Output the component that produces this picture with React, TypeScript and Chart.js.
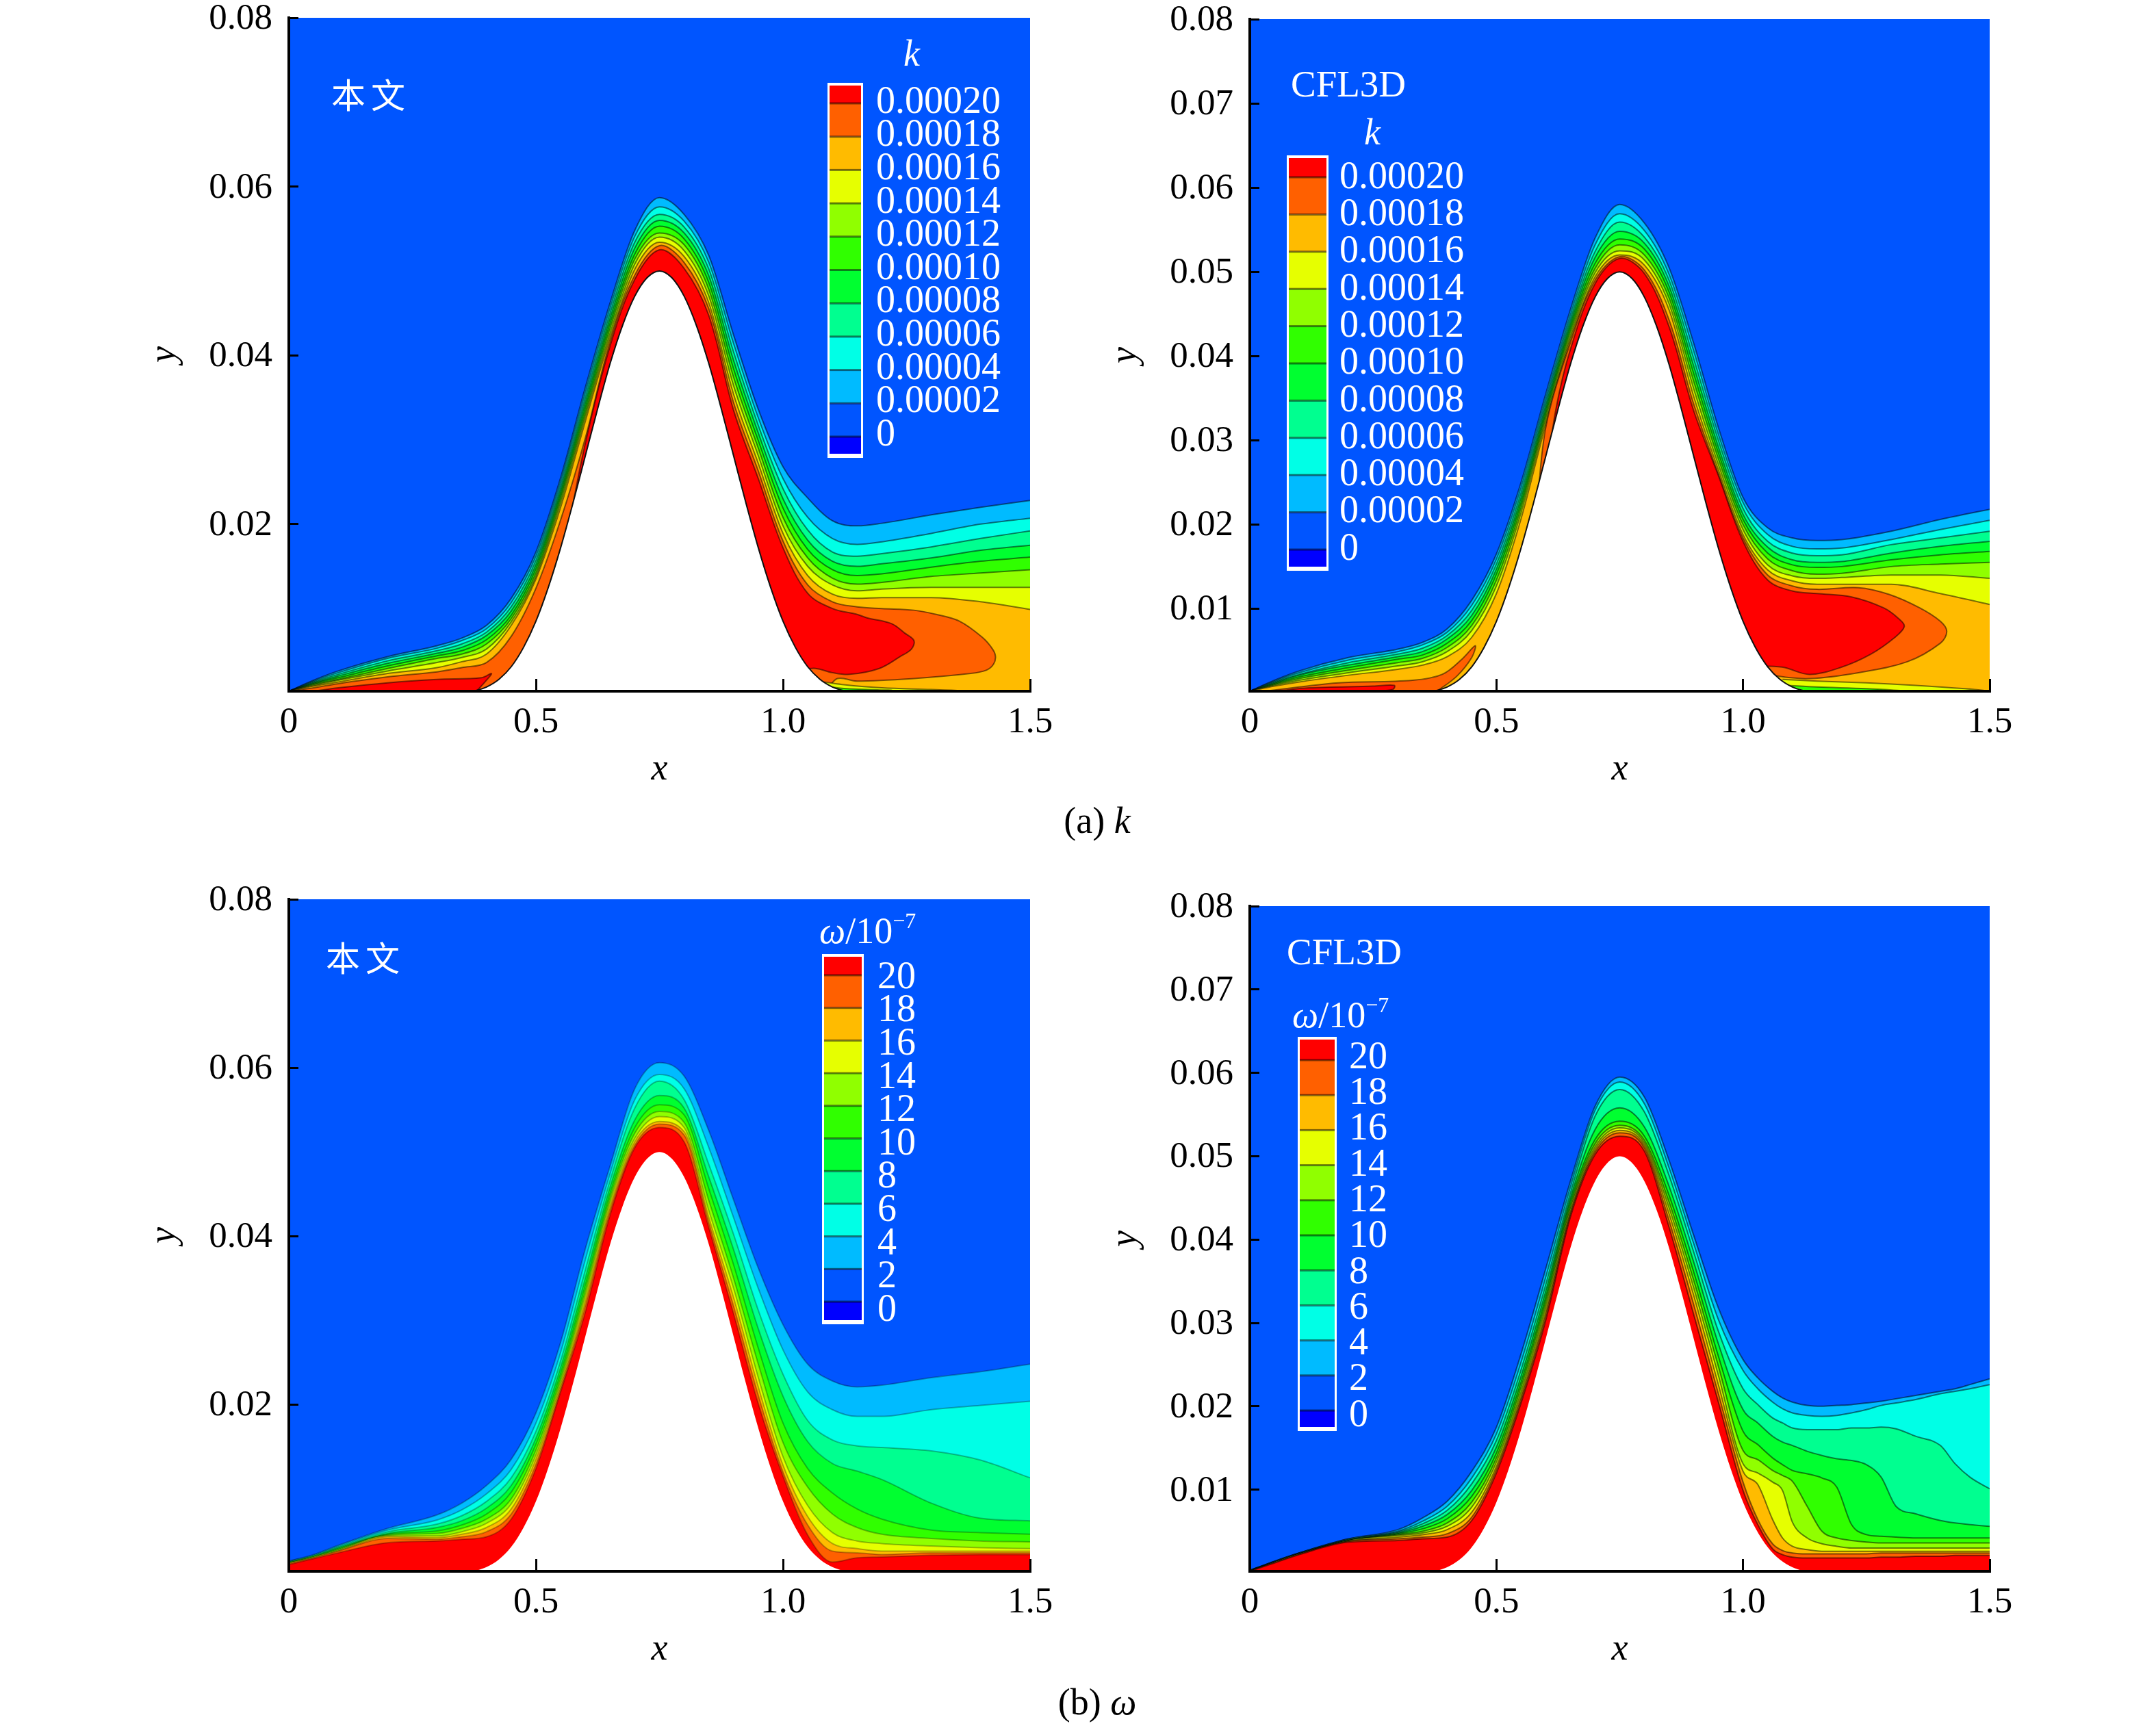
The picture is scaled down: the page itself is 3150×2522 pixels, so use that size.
import { useEffect, useRef } from "react";
import { Chart, registerables } from "chart.js";

Chart.register(...registerables);

const SERIF = '"Liberation Serif", serif';
const CJK = '"Noto Sans CJK SC", sans-serif';

// Tecplot flood colours, lowest level first. The first is the free stream.
const fieldColor = "#0055ff";
const bandColors = ["#00bbff", "#00ffe6", "#00ff90", "#00ff30", "#30ff00", "#90ff00", "#e6ff00", "#ffbb00", "#ff6000", "#ff0000"];
const legendCells = ["#ff0000", "#ff6000", "#ffbb00", "#e6ff00", "#90ff00", "#30ff00", "#00ff30", "#00ff90", "#00ffe6", "#00bbff", "#0055ff", "#0000ff"];

const kLegendLabels = ["0.00020", "0.00018", "0.00016", "0.00014", "0.00012", "0.00010", "0.00008", "0.00006", "0.00004", "0.00002", "0"];
const omegaLegendLabels = ["20", "18", "16", "14", "12", "10", "8", "6", "4", "2", "0"];

const xTickValues = [0, 0.5, 1.0, 1.5];
const xTickLabels = ["0", "0.5", "1.0", "1.5"];
const yTicksCoarse = [0.02, 0.04, 0.06, 0.08];
const yTicksFine = [0.01, 0.02, 0.03, 0.04, 0.05, 0.06, 0.07, 0.08];

// the bump, same for all four panels
const wallX = [0, 0.3, 0.35, 0.38, 0.4, 0.425, 0.45, 0.475, 0.5, 0.525, 0.55, 0.575, 0.6, 0.625, 0.65, 0.675, 0.7, 0.725, 0.75, 0.775, 0.8, 0.825, 0.85, 0.875, 0.9, 0.925, 0.95, 0.975, 1.0, 1.025, 1.05, 1.075, 1.1, 1.12, 1.15, 1.5];
const wallY = [0, 0, 0, 0.0003, 0.0007, 0.0016, 0.0031, 0.0054, 0.0085, 0.0125, 0.0172, 0.0225, 0.0281, 0.0337, 0.039, 0.0435, 0.047, 0.0492, 0.05, 0.0492, 0.047, 0.0435, 0.039, 0.0337, 0.0281, 0.0225, 0.0172, 0.0125, 0.0085, 0.0054, 0.0031, 0.0016, 0.0007, 0.0003, 0, 0];

// x stations for the contour rows
const stations = [0, 0.05, 0.1, 0.2, 0.3, 0.35, 0.4, 0.45, 0.5, 0.55, 0.6, 0.65, 0.7, 0.75, 0.8, 0.85, 0.9, 0.95, 1.0, 1.05, 1.1, 1.15, 1.2, 1.3, 1.4, 1.5];
const stationsFine = [0, 0.05, 0.1, 0.2, 0.3, 0.35, 0.4, 0.45, 0.5, 0.55, 0.6, 0.65, 0.7, 0.75, 0.8, 0.85, 0.9, 0.95, 1.0, 1.03, 1.06, 1.08, 1.1, 1.13, 1.16, 1.19, 1.22, 1.25, 1.28, 1.31, 1.35, 1.4, 1.43, 1.46, 1.5];

// k, present code: one row per station, contour height from the outermost level inward
const kOursRows = [
  [0.0002, 0.0002, 0.0002, 0.0002, 0.0002, 0.0002, 0.0002, 0.0002],
  [0.0015, 0.0014, 0.0013, 0.0012, 0.0011, 0.001, 0.0009, 0.0008],
  [0.0026, 0.0024, 0.0022, 0.002, 0.0018, 0.0016, 0.0015, 0.0013],
  [0.0043, 0.0041, 0.0038, 0.0035, 0.0032, 0.0029, 0.0026, 0.0023],
  [0.0056, 0.0053, 0.005, 0.0047, 0.0044, 0.0041, 0.0036, 0.003],
  [0.0065, 0.0062, 0.0058, 0.0054, 0.005, 0.0046, 0.0042, 0.0037],
  [0.008, 0.0076, 0.0072, 0.0068, 0.0063, 0.0058, 0.0052, 0.0046],
  [0.0112, 0.0107, 0.0102, 0.0097, 0.0092, 0.0088, 0.0084, 0.008],
  [0.0167, 0.0162, 0.0157, 0.0152, 0.0147, 0.0142, 0.0138, 0.0135],
  [0.0255, 0.025, 0.0245, 0.024, 0.0235, 0.023, 0.0225, 0.022],
  [0.0362, 0.0356, 0.035, 0.0344, 0.0338, 0.0332, 0.0327, 0.0322],
  [0.0462, 0.0456, 0.045, 0.0444, 0.0438, 0.0432, 0.0426, 0.0421],
  [0.0548, 0.0541, 0.0534, 0.0527, 0.052, 0.0514, 0.0508, 0.0502],
  [0.0587, 0.0576, 0.0567, 0.056, 0.0553, 0.0545, 0.054, 0.0534],
  [0.0567, 0.0559, 0.0552, 0.0545, 0.0538, 0.0531, 0.0524, 0.0517],
  [0.0518, 0.051, 0.0502, 0.0494, 0.0486, 0.0478, 0.047, 0.0462],
  [0.0424, 0.0414, 0.0404, 0.0394, 0.0384, 0.0374, 0.0364, 0.0354],
  [0.0336, 0.0326, 0.0317, 0.0308, 0.0299, 0.029, 0.0281, 0.0272],
  [0.0268, 0.0254, 0.0242, 0.023, 0.0219, 0.0208, 0.0198, 0.0189],
  [0.0231, 0.0208, 0.0193, 0.0181, 0.017, 0.016, 0.015, 0.0139],
  [0.0204, 0.0183, 0.0167, 0.0156, 0.0146, 0.0136, 0.0128, 0.0117],
  [0.0198, 0.0176, 0.0162, 0.015, 0.0139, 0.0129, 0.0121, 0.0112],
  [0.0201, 0.0179, 0.0165, 0.0153, 0.0141, 0.0131, 0.0123, 0.0113],
  [0.0211, 0.0189, 0.0173, 0.016, 0.0149, 0.0138, 0.0125, 0.0113],
  [0.022, 0.02, 0.0183, 0.0169, 0.0156, 0.0142, 0.0125, 0.0108],
  [0.0228, 0.0207, 0.0192, 0.0175, 0.0161, 0.0146, 0.0125, 0.0099],
];
const kOursOrange = [[0, 0.0002], [0.05, 0.0006], [0.1, 0.0011], [0.2, 0.0019], [0.3, 0.0025], [0.35, 0.003], [0.4, 0.0036], [0.45, 0.0067], [0.5, 0.0124], [0.55, 0.0205], [0.6, 0.0302], [0.65, 0.0416], [0.7, 0.0495], [0.75, 0.053], [0.8, 0.051], [0.85, 0.0455], [0.9, 0.0344], [0.95, 0.0263], [1.0, 0.018], [1.05, 0.0128], [1.1, 0.0108], [1.15, 0.0102], [1.2, 0.01], [1.265, 0.0098], [1.31, 0.0093], [1.357, 0.0085], [1.403, 0.0066], [1.424, 0.0052], [1.43, 0.0043], [1.426, 0.0034], [1.412, 0.0027], [1.38, 0.0023], [1.265, 0.0017], [1.15, 0.0014], [1.11, 0.0017], [1.08, 0.0002], [0.4, 0.0002]];
const kOursRed = [[0.56, 0.0178], [0.6, 0.0296], [0.65, 0.0411], [0.7, 0.049], [0.75, 0.0525], [0.8, 0.0503], [0.85, 0.0447], [0.9, 0.0335], [0.95, 0.0254], [1.0, 0.0172], [1.05, 0.0118], [1.1, 0.01], [1.15, 0.0093], [1.17, 0.0089], [1.22, 0.0082], [1.246, 0.0071], [1.265, 0.0062], [1.26, 0.0052], [1.237, 0.0043], [1.195, 0.0029], [1.135, 0.0022], [1.1, 0.0024], [1.066, 0.0029], [1.0, 0.003], [0.8, 0.02]];
const kOursStreak = [[0.05, 0.0002], [0.1, 0.0006], [0.2, 0.0012], [0.3, 0.0016], [0.39, 0.0018], [0.41, 0.0023], [0.4, 0.0015], [0.38, 0.0002]];
const kOursFloorYellow = [[1.07, 0.0014], [1.12, 0.001], [1.2, 0.0006], [1.3, 0.0004], [1.38, 0.0002], [1.08, 0.0002]];
const kOursFloorGreen = [[1.08, 0.0008], [1.13, 0.0005], [1.22, 0.0003], [1.1, 0.0002]];

// k, CFL3D
const kCflRows = [
  [0.0002, 0.0002, 0.0002, 0.0002, 0.0002, 0.0002, 0.0002, 0.0002],
  [0.0015, 0.0014, 0.0013, 0.0012, 0.0011, 0.001, 0.0009, 0.0008],
  [0.0026, 0.0024, 0.0022, 0.0021, 0.0019, 0.0017, 0.0015, 0.0013],
  [0.0042, 0.0039, 0.0036, 0.0033, 0.003, 0.0027, 0.0024, 0.0021],
  [0.0052, 0.0049, 0.0046, 0.0043, 0.004, 0.0036, 0.0032, 0.0028],
  [0.006, 0.0057, 0.0053, 0.0049, 0.0045, 0.0041, 0.0037, 0.0033],
  [0.0076, 0.0072, 0.0068, 0.0064, 0.0059, 0.0054, 0.0049, 0.0043],
  [0.011, 0.0104, 0.0098, 0.0092, 0.0086, 0.008, 0.0074, 0.0066],
  [0.0165, 0.0159, 0.0153, 0.0147, 0.0141, 0.0134, 0.0127, 0.0118],
  [0.025, 0.0244, 0.0238, 0.0232, 0.0226, 0.022, 0.0214, 0.0207],
  [0.0355, 0.0349, 0.0344, 0.0339, 0.0334, 0.0329, 0.0324, 0.0319],
  [0.0455, 0.0449, 0.0444, 0.0439, 0.0434, 0.0429, 0.0424, 0.042],
  [0.054, 0.0532, 0.0524, 0.0517, 0.051, 0.0504, 0.0499, 0.0494],
  [0.058, 0.0569, 0.0559, 0.0548, 0.0539, 0.0532, 0.0525, 0.052],
  [0.0558, 0.0549, 0.0541, 0.0534, 0.0527, 0.052, 0.0514, 0.0508],
  [0.0505, 0.0497, 0.049, 0.0483, 0.0476, 0.0469, 0.0462, 0.0455],
  [0.0415, 0.0406, 0.0397, 0.0388, 0.0379, 0.037, 0.0361, 0.0352],
  [0.0315, 0.0307, 0.03, 0.0292, 0.0285, 0.0278, 0.0271, 0.0265],
  [0.0232, 0.0226, 0.0219, 0.0212, 0.0206, 0.02, 0.0194, 0.0188],
  [0.0196, 0.0188, 0.018, 0.0173, 0.0166, 0.0159, 0.0152, 0.0146],
  [0.0184, 0.0174, 0.0166, 0.0158, 0.0152, 0.0145, 0.0139, 0.0133],
  [0.0181, 0.0171, 0.0163, 0.0155, 0.0149, 0.0141, 0.0136, 0.0129],
  [0.0182, 0.0172, 0.0164, 0.0156, 0.015, 0.0142, 0.0137, 0.0129],
  [0.0192, 0.0182, 0.0176, 0.0166, 0.0158, 0.015, 0.014, 0.0129],
  [0.0206, 0.0194, 0.0184, 0.0174, 0.0164, 0.0153, 0.014, 0.0118],
  [0.0218, 0.0205, 0.0192, 0.018, 0.0168, 0.0155, 0.0136, 0.0105],
];
const kCflOrange = [[0.58, 0.02], [0.6, 0.0315], [0.65, 0.0416], [0.7, 0.049], [0.75, 0.0518], [0.8, 0.0502], [0.85, 0.0443], [0.9, 0.0343], [0.95, 0.026], [1.0, 0.0184], [1.05, 0.014], [1.1, 0.0127], [1.15, 0.0123], [1.234, 0.0125], [1.296, 0.0117], [1.358, 0.0101], [1.4, 0.0085], [1.413, 0.0073], [1.4, 0.0059], [1.333, 0.0037], [1.234, 0.0024], [1.135, 0.0017], [1.07, 0.002], [1.0, 0.003], [0.8, 0.02]];
const kCflRed = [[0.6, 0.025], [0.62, 0.0335], [0.65, 0.0408], [0.7, 0.0486], [0.75, 0.0516], [0.8, 0.0498], [0.85, 0.0435], [0.9, 0.0335], [0.95, 0.0258], [1.0, 0.018], [1.05, 0.0134], [1.1, 0.0121], [1.15, 0.0118], [1.22, 0.0114], [1.285, 0.0101], [1.316, 0.0088], [1.327, 0.0079], [1.308, 0.0066], [1.259, 0.0046], [1.197, 0.003], [1.135, 0.0022], [1.085, 0.003], [1.0, 0.004], [0.8, 0.02]];
const kCflTail = [[0.03, 0.0002], [0.1, 0.0007], [0.18, 0.0012], [0.33, 0.0015], [0.39, 0.0022], [0.43, 0.004], [0.457, 0.0056], [0.45, 0.0042], [0.42, 0.002], [0.38, 0.0002]];
const kCflStreak = [[0.05, 0.0002], [0.12, 0.0006], [0.25, 0.0008], [0.293, 0.0009], [0.29, 0.0004], [0.25, 0.0002]];
const kCflFloorYellow = [[1.08, 0.0016], [1.15, 0.0014], [1.25, 0.0012], [1.35, 0.0009], [1.45, 0.0005], [1.5, 0.0002], [1.08, 0.0002]];
const kCflFloorGreen = [[1.09, 0.0009], [1.15, 0.0007], [1.25, 0.0005], [1.33, 0.0002], [1.1, 0.0002]];

// omega, present code
const omegaOursRows = [
  [0.0014, 0.0014, 0.0013, 0.0013, 0.0013, 0.0012, 0.0012, 0.0012, 0.0011, 0.001],
  [0.0022, 0.0021, 0.0021, 0.002, 0.002, 0.0019, 0.0019, 0.0018, 0.0018, 0.0017],
  [0.0033, 0.0032, 0.0031, 0.003, 0.0029, 0.0028, 0.0027, 0.0026, 0.0026, 0.0024],
  [0.0053, 0.0051, 0.0049, 0.0047, 0.0046, 0.0045, 0.0044, 0.0043, 0.0041, 0.0036],
  [0.0069, 0.0063, 0.0058, 0.0054, 0.005, 0.0047, 0.0044, 0.0042, 0.004, 0.0038],
  [0.0083, 0.0075, 0.0068, 0.0062, 0.0057, 0.0053, 0.0049, 0.0046, 0.0043, 0.004],
  [0.0104, 0.0094, 0.0085, 0.0077, 0.007, 0.0064, 0.0059, 0.0054, 0.0049, 0.0043],
  [0.0135, 0.0123, 0.0113, 0.0104, 0.0096, 0.0088, 0.0082, 0.0076, 0.007, 0.0064],
  [0.019, 0.0178, 0.0168, 0.016, 0.0153, 0.0146, 0.014, 0.0135, 0.0129, 0.0124],
  [0.0274, 0.0262, 0.0252, 0.0244, 0.0237, 0.0231, 0.0226, 0.0222, 0.0218, 0.0215],
  [0.0385, 0.0372, 0.036, 0.035, 0.0342, 0.0335, 0.0329, 0.0323, 0.0317, 0.031],
  [0.0483, 0.0474, 0.0466, 0.0458, 0.0451, 0.0445, 0.044, 0.0435, 0.043, 0.0425],
  [0.0575, 0.0562, 0.0552, 0.0538, 0.0529, 0.0522, 0.0516, 0.0512, 0.0508, 0.0505],
  [0.0606, 0.0592, 0.0584, 0.0567, 0.0556, 0.0548, 0.0542, 0.0536, 0.0533, 0.0529],
  [0.059, 0.0575, 0.0562, 0.0552, 0.0544, 0.0535, 0.0529, 0.0524, 0.052, 0.0512],
  [0.0525, 0.0505, 0.0485, 0.047, 0.0456, 0.0442, 0.043, 0.0422, 0.0416, 0.041],
  [0.0443, 0.0422, 0.0402, 0.0384, 0.0366, 0.035, 0.0338, 0.0327, 0.0317, 0.0308],
  [0.0362, 0.0338, 0.0312, 0.029, 0.0267, 0.0248, 0.0232, 0.0221, 0.0211, 0.0201],
  [0.0295, 0.0265, 0.0236, 0.021, 0.0178, 0.0155, 0.0138, 0.0128, 0.012, 0.0115],
  [0.0248, 0.0215, 0.0181, 0.0156, 0.0124, 0.0102, 0.008, 0.0067, 0.0057, 0.0045],
  [0.0228, 0.0194, 0.0158, 0.013, 0.0095, 0.007, 0.0048, 0.0035, 0.0026, 0.0013],
  [0.0221, 0.0186, 0.0151, 0.0121, 0.0076, 0.0054, 0.0038, 0.0029, 0.0024, 0.0018],
  [0.0223, 0.0186, 0.0149, 0.0111, 0.0064, 0.0046, 0.0035, 0.0026, 0.0022, 0.0019],
  [0.0232, 0.0194, 0.0145, 0.0083, 0.0051, 0.0041, 0.0032, 0.0026, 0.0024, 0.0021],
  [0.0239, 0.0199, 0.0134, 0.0065, 0.0048, 0.0038, 0.003, 0.0026, 0.0024, 0.0022],
  [0.0248, 0.0204, 0.0113, 0.0062, 0.0046, 0.0037, 0.0029, 0.0026, 0.0024, 0.0022],
];

// omega, CFL3D: needs the finer stations for the steps behind the bump
const omegaCflRows = [
  [0.0003, 0.0003, 0.0003, 0.0003, 0.0003, 0.0002, 0.0002, 0.0002, 0.0002, 0.0002],
  [0.0014, 0.0014, 0.0014, 0.0013, 0.0013, 0.0013, 0.0013, 0.0013, 0.0012, 0.0012],
  [0.0024, 0.0024, 0.0024, 0.0023, 0.0023, 0.0023, 0.0023, 0.0023, 0.0022, 0.0022],
  [0.0041, 0.0041, 0.004, 0.004, 0.0039, 0.0039, 0.0039, 0.0038, 0.0038, 0.0037],
  [0.0052, 0.005, 0.0049, 0.0048, 0.0047, 0.0046, 0.0045, 0.0043, 0.0041, 0.0039],
  [0.0066, 0.0062, 0.0059, 0.0056, 0.0053, 0.005, 0.0048, 0.0046, 0.0043, 0.0041],
  [0.0086, 0.008, 0.0075, 0.007, 0.0065, 0.006, 0.0056, 0.0052, 0.0047, 0.0043],
  [0.0122, 0.0114, 0.0107, 0.0099, 0.0092, 0.0085, 0.0079, 0.0073, 0.0067, 0.0063],
  [0.0175, 0.0167, 0.0159, 0.0151, 0.0144, 0.0138, 0.0133, 0.0128, 0.0124, 0.012],
  [0.0263, 0.0253, 0.0244, 0.0236, 0.0229, 0.0223, 0.0217, 0.0212, 0.0208, 0.0204],
  [0.0365, 0.0355, 0.0346, 0.0338, 0.0331, 0.0325, 0.0319, 0.0313, 0.0308, 0.0303],
  [0.047, 0.0463, 0.0456, 0.045, 0.0445, 0.044, 0.0436, 0.0432, 0.043, 0.0427],
  [0.056, 0.0555, 0.0548, 0.0532, 0.052, 0.0515, 0.0511, 0.0508, 0.0505, 0.0502],
  [0.0595, 0.0589, 0.058, 0.0558, 0.0542, 0.0537, 0.0534, 0.0531, 0.0528, 0.0524],
  [0.0571, 0.0563, 0.0553, 0.0535, 0.0524, 0.0519, 0.0516, 0.0513, 0.051, 0.0506],
  [0.0495, 0.0486, 0.0477, 0.0464, 0.0453, 0.0445, 0.0438, 0.0431, 0.0423, 0.0415],
  [0.0405, 0.0395, 0.0385, 0.0373, 0.0361, 0.0351, 0.0342, 0.0333, 0.0322, 0.031],
  [0.0318, 0.0304, 0.029, 0.0275, 0.026, 0.0248, 0.0237, 0.0226, 0.0215, 0.0205],
  [0.0256, 0.0243, 0.0221, 0.0196, 0.017, 0.0147, 0.0131, 0.0122, 0.0109, 0.0099],
  [0.0234, 0.0221, 0.0202, 0.018, 0.0154, 0.0136, 0.012, 0.0106, 0.0064, 0.0058],
  [0.0218, 0.0205, 0.0186, 0.0164, 0.0138, 0.0123, 0.0109, 0.0064, 0.0035, 0.0029],
  [0.021, 0.0197, 0.018, 0.0157, 0.013, 0.0117, 0.0099, 0.0042, 0.0027, 0.0022],
  [0.0205, 0.0192, 0.0174, 0.0153, 0.0123, 0.011, 0.0061, 0.0032, 0.0024, 0.0019],
  [0.0201, 0.0189, 0.0172, 0.0146, 0.0119, 0.008, 0.0042, 0.0028, 0.0023, 0.0018],
  [0.02, 0.0188, 0.0172, 0.0141, 0.0114, 0.005, 0.0035, 0.0026, 0.0023, 0.0018],
  [0.0201, 0.0189, 0.0172, 0.0137, 0.0103, 0.0042, 0.0032, 0.0026, 0.0023, 0.0018],
  [0.0202, 0.0192, 0.0174, 0.0135, 0.0058, 0.0039, 0.003, 0.0026, 0.0023, 0.0018],
  [0.0204, 0.0196, 0.0174, 0.013, 0.0046, 0.0037, 0.003, 0.0026, 0.0023, 0.0018],
  [0.0206, 0.0201, 0.0175, 0.0115, 0.0044, 0.0036, 0.003, 0.0026, 0.0024, 0.0019],
  [0.0209, 0.0204, 0.0173, 0.008, 0.0043, 0.0036, 0.003, 0.0026, 0.0024, 0.0019],
  [0.0213, 0.0208, 0.0164, 0.0071, 0.0042, 0.0036, 0.003, 0.0026, 0.0024, 0.002],
  [0.0218, 0.0215, 0.0153, 0.0063, 0.0042, 0.0036, 0.003, 0.0026, 0.0024, 0.002],
  [0.0221, 0.0218, 0.0131, 0.006, 0.0042, 0.0036, 0.003, 0.0026, 0.0024, 0.0021],
  [0.0226, 0.0221, 0.0115, 0.0058, 0.0042, 0.0036, 0.003, 0.0026, 0.0024, 0.0021],
  [0.0233, 0.0226, 0.0101, 0.0056, 0.0042, 0.0036, 0.003, 0.0026, 0.0024, 0.0021],
];

const MARGIN = { left: 230, top: 26, right: 60, bottom: 150 };

type Pair = number[];
type Shape = { points: Pair[]; band: number };
type Legend = {
  boxLeft: number; boxRight: number; boxTop: number; boxBottom: number;
  cellFirst: number; cellStep: number;
  labelX: number; firstRow: number; rowStep: number; labels: string[];
  titleX: number; titleY: number; omega: boolean;
};
type PanelConfig = {
  plot: { left: number; right: number; top: number; bottom: number };
  xs: number[];
  rows: number[][];
  shapes: Shape[];
  yTicks: number[];
  soft: boolean;
  legend: Legend;
  note: { text: string; x: number; y: number; cjk: boolean };
};

const panels: PanelConfig[] = [
  {
    plot: { left: 422, right: 1505, top: 26, bottom: 1010 },
    xs: stations, rows: kOursRows, yTicks: yTicksCoarse, soft: false,
    shapes: [
      { points: kOursOrange, band: 8 },
      { points: kOursFloorYellow, band: 6 },
      { points: kOursFloorGreen, band: 4 },
      { points: kOursStreak, band: 9 },
      { points: kOursRed, band: 9 },
    ],
    legend: { boxLeft: 1209, boxRight: 1261, boxTop: 121, boxBottom: 669, cellFirst: 151, cellStep: 48.7, labelX: 1280, firstRow: 147, rowStep: 48.6, labels: kLegendLabels, titleX: 1332, titleY: 82, omega: false },
    note: { text: "本文", x: 484, y: 139, cjk: true },
  },
  {
    plot: { left: 1826, right: 2907, top: 28, bottom: 1010 },
    xs: stations, rows: kCflRows, yTicks: yTicksFine, soft: false,
    shapes: [
      { points: kCflFloorYellow, band: 6 },
      { points: kCflFloorGreen, band: 4 },
      { points: kCflTail, band: 8 },
      { points: kCflStreak, band: 9 },
      { points: kCflOrange, band: 8 },
      { points: kCflRed, band: 9 },
    ],
    legend: { boxLeft: 1880, boxRight: 1941, boxTop: 227, boxBottom: 834, cellFirst: 259, cellStep: 54.4, labelX: 1957, firstRow: 257, rowStep: 54.3, labels: kLegendLabels, titleX: 2005, titleY: 197, omega: false },
    note: { text: "CFL3D", x: 1886, y: 124, cjk: false },
  },
  {
    plot: { left: 422, right: 1505, top: 1314, bottom: 2296 },
    xs: stations, rows: omegaOursRows, yTicks: yTicksCoarse, soft: true, shapes: [],
    legend: { boxLeft: 1201, boxRight: 1262, boxTop: 1394, boxBottom: 1935, cellFirst: 1425, cellStep: 47.7, labelX: 1282, firstRow: 1426, rowStep: 48.6, labels: omegaLegendLabels, titleX: 1197, titleY: 1364, omega: true },
    note: { text: "本文", x: 476, y: 1400, cjk: true },
  },
  {
    plot: { left: 1826, right: 2907, top: 1324, bottom: 2296 },
    xs: stationsFine, rows: omegaCflRows, yTicks: yTicksFine, soft: false, shapes: [],
    legend: { boxLeft: 1896, boxRight: 1953, boxTop: 1515, boxBottom: 2091, cellFirst: 1549, cellStep: 51.2, labelX: 1971, firstRow: 1543, rowStep: 52.3, labels: omegaLegendLabels, titleX: 1888, titleY: 1487, omega: true },
    note: { text: "CFL3D", x: 1880, y: 1392, cjk: false },
  },
];

function Panel({ config }: { config: PanelConfig }) {
  const canvasRef = useRef<HTMLCanvasElement>(null);
  const { plot } = config;
  const canvasLeft = plot.left - MARGIN.left;
  const canvasTop = plot.top - MARGIN.top;
  const width = plot.right - plot.left + MARGIN.left + MARGIN.right;
  const height = plot.bottom - plot.top + MARGIN.top + MARGIN.bottom;

  useEffect(() => {
    const canvas = canvasRef.current;
    if (!canvas) return;

    const lineColor = config.soft ? "rgba(0,0,0,0.28)" : "rgba(0,0,0,0.5)";
    const layers: any[] = [];
    layers.push({
      data: [{ x: 0, y: 0.08 }, { x: 1.5, y: 0.08 }],
      fill: "origin", backgroundColor: fieldColor, borderWidth: 0,
    });
    bandColors.forEach((color, i) => {
      if (i >= config.rows[0].length) return;
      layers.push({
        data: config.xs.map((x, s) => ({ x, y: config.rows[s][i] })),
        fill: "origin", backgroundColor: color, borderColor: lineColor, borderWidth: 2,
        cubicInterpolationMode: "monotone",
      });
    });
    config.shapes.forEach((shape) => {
      layers.push({
        data: shape.points.map(([x, y]) => ({ x, y })),
        fill: "shape", backgroundColor: bandColors[shape.band], borderColor: lineColor, borderWidth: 2,
        tension: 0.35,
      });
    });
    layers.push({
      data: wallX.map((x, i) => ({ x, y: wallY[i] })),
      fill: "origin", backgroundColor: "#ffffff",
      borderColor: config.legend.omega ? "rgba(0,0,0,0)" : "#111111", borderWidth: config.legend.omega ? 0 : 2,
      cubicInterpolationMode: "monotone",
    });
    // the first painted layer has to carry the highest order
    layers.forEach((layer, i) => {
      layer.order = layers.length - i;
      layer.pointRadius = 0;
    });

    const overlay = {
      id: "overlay",
      afterDatasetsDraw(chart: any) {
        const ctx = chart.ctx;
        const { legend, note } = config;
        ctx.save();
        ctx.translate(-canvasLeft, -canvasTop);

        // colour bar
        ctx.fillStyle = "#ffffff";
        ctx.fillRect(legend.boxLeft, legend.boxTop, legend.boxRight - legend.boxLeft, legend.boxBottom - legend.boxTop);
        const barLeft = legend.boxLeft + 3;
        const barWidth = legend.boxRight - legend.boxLeft - 6;
        const barTop = legend.boxTop + 4;
        const barBottom = legend.boxBottom - 6;
        legendCells.forEach((color, i) => {
          const top = i === 0 ? barTop : legend.cellFirst + (i - 1) * legend.cellStep;
          const bottom = i === legendCells.length - 1 ? barBottom : legend.cellFirst + i * legend.cellStep;
          ctx.fillStyle = color;
          ctx.fillRect(barLeft, top, barWidth, bottom - top);
          if (i > 0) {
            ctx.fillStyle = "rgba(0,0,0,0.5)";
            ctx.fillRect(barLeft, top - 1.5, barWidth, 3);
          }
        });

        // labels
        ctx.fillStyle = "#ffffff";
        ctx.textAlign = "left";
        ctx.textBaseline = "middle";
        ctx.font = `56px ${SERIF}`;
        legend.labels.forEach((label, i) => {
          ctx.fillText(label, legend.labelX, legend.firstRow + 3 + i * legend.rowStep);
        });

        // legend title
        if (legend.omega) {
          let x = legend.titleX;
          ctx.font = `italic 54px ${SERIF}`;
          ctx.fillText("ω", x, legend.titleY);
          x += ctx.measureText("ω").width;
          ctx.font = `54px ${SERIF}`;
          ctx.fillText("/10", x, legend.titleY);
          x += ctx.measureText("/10").width;
          ctx.font = `32px ${SERIF}`;
          ctx.fillText("−7", x, legend.titleY - 16);
        } else {
          ctx.textAlign = "center";
          ctx.font = `italic 54px ${SERIF}`;
          ctx.fillText("k", legend.titleX, legend.titleY);
        }

        // which code
        ctx.textAlign = "left";
        if (note.cjk) {
          ctx.font = `50px ${CJK}`;
          ctx.letterSpacing = "8px";
          ctx.fillText(note.text, note.x, note.y);
        } else {
          ctx.font = `55px ${SERIF}`;
          ctx.fillText(note.text, note.x, note.y + 3);
        }
        ctx.letterSpacing = "0px";
        ctx.restore();
      },
    };

    const clearPadding = (scale: any) => {
      scale.paddingLeft = 0;
      scale.paddingRight = 0;
      scale.paddingTop = 0;
      scale.paddingBottom = 0;
    };

    const tickFont = { family: SERIF, size: 53 };
    const titleFont = { family: SERIF, size: 54, style: "italic" };
    const chart = new Chart(canvas.getContext("2d")!, {
      type: "line",
      data: { datasets: layers },
      plugins: [overlay],
      options: {
        responsive: false,
        animation: false,
        devicePixelRatio: 1,
        events: [],
        layout: { autoPadding: false, padding: { top: MARGIN.top, right: MARGIN.right, left: 0, bottom: 0 } },
        plugins: { legend: { display: false }, tooltip: { enabled: false }, title: { display: false } },
        scales: {
          x: {
            type: "linear",
            min: 0,
            max: 1.5,
            afterFit: (scale: any) => { scale.height = MARGIN.bottom; clearPadding(scale); },
            afterBuildTicks: (scale: any) => { scale.ticks = xTickValues.map((value) => ({ value })); },
            border: { display: true, color: "#000000", width: 4, z: 2 },
            grid: { drawOnChartArea: false, drawTicks: true, tickLength: -18, tickWidth: 3, tickColor: "#000000", z: 2 },
            ticks: {
              color: "#000000", font: tickFont, padding: 32, maxRotation: 0, minRotation: 0, autoSkip: false,
              callback: (_v: any, i: number) => xTickLabels[i],
            },
            title: { display: true, text: "x", color: "#000000", font: titleFont, padding: { top: 0, bottom: 3 } },
          },
          y: {
            type: "linear",
            min: 0.0002,
            max: 0.08,
            afterFit: (scale: any) => { scale.width = MARGIN.left; clearPadding(scale); },
            afterBuildTicks: (scale: any) => { scale.ticks = config.yTicks.map((value) => ({ value })); },
            border: { display: true, color: "#000000", width: 4, z: 2 },
            grid: { drawOnChartArea: false, drawTicks: true, tickLength: -14, tickWidth: 3, tickColor: "#000000", z: 2 },
            ticks: {
              color: "#000000", font: tickFont, padding: 38, autoSkip: false, labelOffset: 2,
              callback: (v: any) => Number(v).toFixed(2),
            },
            title: { display: true, text: "y", color: "#000000", font: titleFont, padding: { top: 16, bottom: 0 } },
          },
        },
      } as any,
    });

    return () => chart.destroy();
  }, [config]);

  return (
    <canvas
      ref={canvasRef}
      width={width}
      height={height}
      style={{ position: "absolute", left: canvasLeft, top: canvasTop, width, height }}
    />
  );
}

const captionStyle: any = {
  position: "absolute",
  left: 0,
  width: 3206,
  textAlign: "center",
  fontFamily: SERIF,
  fontSize: 54,
  lineHeight: "60px",
  color: "#000",
};

export default function App() {
  return (
    <div style={{ position: "absolute", left: 0, top: 0, width: 3150, height: 2522, background: "#fff", overflow: "hidden" }}>
      {panels.map((config, i) => (
        <Panel key={i} config={config} />
      ))}
      <div style={{ ...captionStyle, top: 1169 }}>(a) <i>k</i></div>
      <div style={{ ...captionStyle, top: 2457 }}>(b) <i>ω</i></div>
    </div>
  );
}
